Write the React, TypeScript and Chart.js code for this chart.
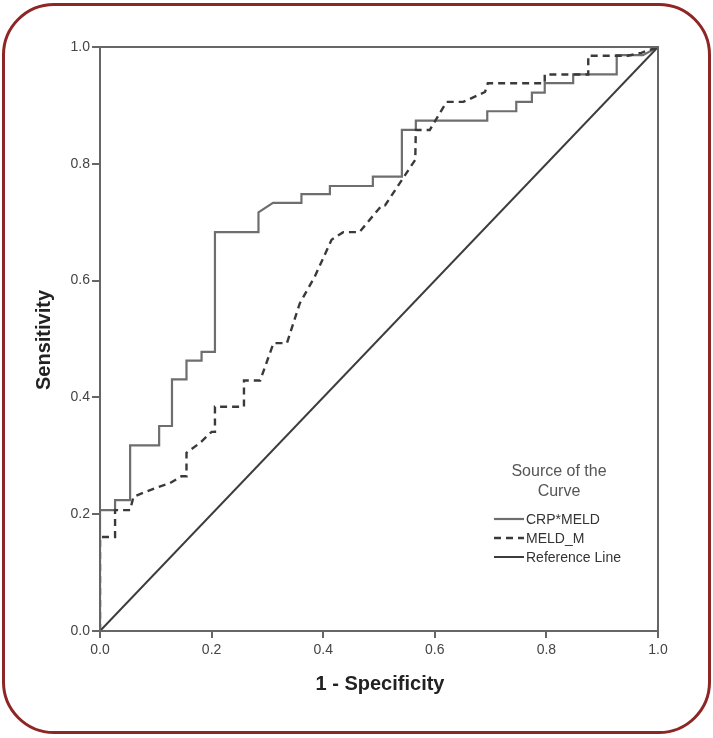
import React, { useEffect, useRef } from "react";
import { Chart, registerables } from "chart.js";

Chart.register(...registerables);

// CRP*MELD ROC curve (1 - specificity, sensitivity)
const crpMeldX = [0, 0, 0.027, 0.027, 0.054, 0.054, 0.106, 0.106, 0.129, 0.129, 0.155, 0.155, 0.182, 0.182, 0.206, 0.206, 0.284, 0.284, 0.31, 0.361, 0.361, 0.412, 0.412, 0.489, 0.489, 0.541, 0.541, 0.566, 0.566, 0.694, 0.694, 0.746, 0.746, 0.774, 0.774, 0.797, 0.797, 0.848, 0.848, 0.926, 0.926, 0.973, 1];
const crpMeldY = [0, 0.207, 0.207, 0.224, 0.224, 0.318, 0.318, 0.351, 0.351, 0.431, 0.431, 0.463, 0.463, 0.478, 0.478, 0.683, 0.683, 0.717, 0.733, 0.733, 0.748, 0.748, 0.762, 0.762, 0.778, 0.778, 0.858, 0.858, 0.874, 0.874, 0.89, 0.89, 0.906, 0.906, 0.922, 0.922, 0.938, 0.938, 0.953, 0.953, 0.986, 0.986, 1];

// MELD_M ROC curve
const meldMX = [0, 0, 0.027, 0.027, 0.054, 0.06, 0.1, 0.125, 0.146, 0.155, 0.155, 0.179, 0.2, 0.206, 0.206, 0.258, 0.258, 0.287, 0.311, 0.335, 0.358, 0.385, 0.415, 0.436, 0.465, 0.505, 0.511, 0.565, 0.566, 0.591, 0.621, 0.651, 0.69, 0.695, 0.797, 0.797, 0.875, 0.875, 0.946, 0.97, 1];
const meldMY = [0, 0.161, 0.161, 0.207, 0.207, 0.23, 0.245, 0.253, 0.265, 0.265, 0.305, 0.322, 0.341, 0.341, 0.384, 0.384, 0.429, 0.429, 0.493, 0.493, 0.561, 0.607, 0.67, 0.683, 0.683, 0.729, 0.729, 0.807, 0.858, 0.858, 0.906, 0.906, 0.923, 0.938, 0.938, 0.953, 0.953, 0.985, 0.985, 0.99, 1];

// Reference line
const refX = [0, 1];
const refY = [0, 1];

const tickValues = [0, 0.2, 0.4, 0.6, 0.8, 1.0];
const tickLabels = ["0.0", "0.2", "0.4", "0.6", "0.8", "1.0"];

const legendTitle = ["Source of the", "Curve"];
const seriesNames = ["CRP*MELD", "MELD_M", "Reference Line"];
const xTitle = "1 - Specificity";
const yTitle = "Sensitivity";

const toPoints = (xs: number[], ys: number[]) => xs.map((x, i) => ({ x, y: ys[i] }));

const FONT = "'Liberation Sans', Arial, sans-serif";

export default function App() {
  const ref = useRef<HTMLCanvasElement>(null);

  useEffect(() => {
    if (!ref.current) return;
    const colors = ["#6e6e6e", "#3a3a3a", "#3c3c3c"];
    const dashes = [[], [7, 5], []];
    const widths = [2.2, 2.4, 2];

    const decor = {
      id: "decor",
      afterDatasetsDraw(chart: any) {
        const { ctx, chartArea } = chart;
        const { left, top, right, bottom } = chartArea;
        ctx.save();
        // frame
        ctx.strokeStyle = "#666";
        ctx.lineWidth = 2;
        ctx.strokeRect(left, top, right - left, bottom - top);
        // axis titles
        ctx.fillStyle = "#222";
        ctx.font = `bold 20px ${FONT}`;
        ctx.textAlign = "center";
        ctx.textBaseline = "middle";
        ctx.fillText(xTitle, (left + right) / 2 + 1, 684);
        ctx.save();
        ctx.translate(44, (top + bottom) / 2 + 1);
        ctx.rotate(-Math.PI / 2);
        ctx.fillText(yTitle, 0, 0);
        ctx.restore();
        // legend
        ctx.fillStyle = "#555";
        ctx.font = `16px ${FONT}`;
        ctx.fillText(legendTitle[0], 559, 472);
        ctx.fillText(legendTitle[1], 559, 492);
        ctx.font = `14px ${FONT}`;
        ctx.textAlign = "left";
        const ys = [519, 538, 557];
        seriesNames.forEach((n, i) => {
          ctx.strokeStyle = colors[i];
          ctx.lineWidth = widths[i];
          ctx.setLineDash(dashes[i]);
          ctx.beginPath();
          ctx.moveTo(494, ys[i]);
          ctx.lineTo(524, ys[i]);
          ctx.stroke();
          ctx.setLineDash([]);
          ctx.fillStyle = "#333";
          ctx.fillText(n, 526, ys[i] + 1);
        });
        ctx.restore();
      },
    };

    const mk = (xs: number[], ys: number[], i: number) => ({
      label: seriesNames[i],
      data: toPoints(xs, ys),
      showLine: true,
      borderColor: colors[i],
      borderWidth: widths[i],
      borderDash: dashes[i],
      pointRadius: 0,
      fill: false,
      tension: 0,
    });

    const chart = new Chart(ref.current, {
      type: "scatter",
      data: {
        datasets: [
          mk(refX, refY, 2),
          mk(meldMX, meldMY, 1),
          mk(crpMeldX, crpMeldY, 0),
        ],
      },
      options: {
        responsive: false,
        animation: false,
        events: [],
        layout: { padding: { left: 0, right: 55, top: 47, bottom: 0 } },
        plugins: { legend: { display: false }, tooltip: { enabled: false } },
        scales: {
          x: {
            type: "linear",
            min: 0,
            max: 1,
            afterFit: (s: any) => { s.height = 107; },
            afterBuildTicks: (s: any) => { s.ticks = tickValues.map((v) => ({ value: v })); },
            ticks: {
              callback: (v: any) => tickLabels[tickValues.indexOf(Number(v))] ?? "",
              color: "#444",
              font: { family: FONT, size: 14 },
              padding: 4,
              maxRotation: 0,
            },
            grid: { drawOnChartArea: false, drawTicks: true, tickLength: 7, color: "#666", lineWidth: 2 },
            border: { display: true, color: "#666", width: 2 },
          },
          y: {
            type: "linear",
            min: 0,
            max: 1,
            afterFit: (s: any) => { s.width = 100; },
            afterBuildTicks: (s: any) => { s.ticks = tickValues.map((v) => ({ value: v })); },
            ticks: {
              callback: (v: any) => tickLabels[tickValues.indexOf(Number(v))] ?? "",
              color: "#444",
              font: { family: FONT, size: 14 },
              padding: 2,
            },
            grid: { drawOnChartArea: false, drawTicks: true, tickLength: 8, color: "#666", lineWidth: 2 },
            border: { display: true, color: "#666", width: 2 },
          },
        },
      },
      plugins: [decor],
    });
    return () => chart.destroy();
  }, []);

  return (
    <div style={{ position: "fixed", left: 0, top: 0, width: 713, height: 738, background: "#fff" }}>
      <canvas ref={ref} width={713} height={738} style={{ position: "absolute", left: 0, top: 0 }} />
      <div
        style={{
          position: "absolute",
          left: 2,
          top: 3,
          width: 709,
          height: 731,
          boxSizing: "border-box",
          border: "3px solid #8e2626",
          borderRadius: 52,
          pointerEvents: "none",
        }}
      />
    </div>
  );
}
